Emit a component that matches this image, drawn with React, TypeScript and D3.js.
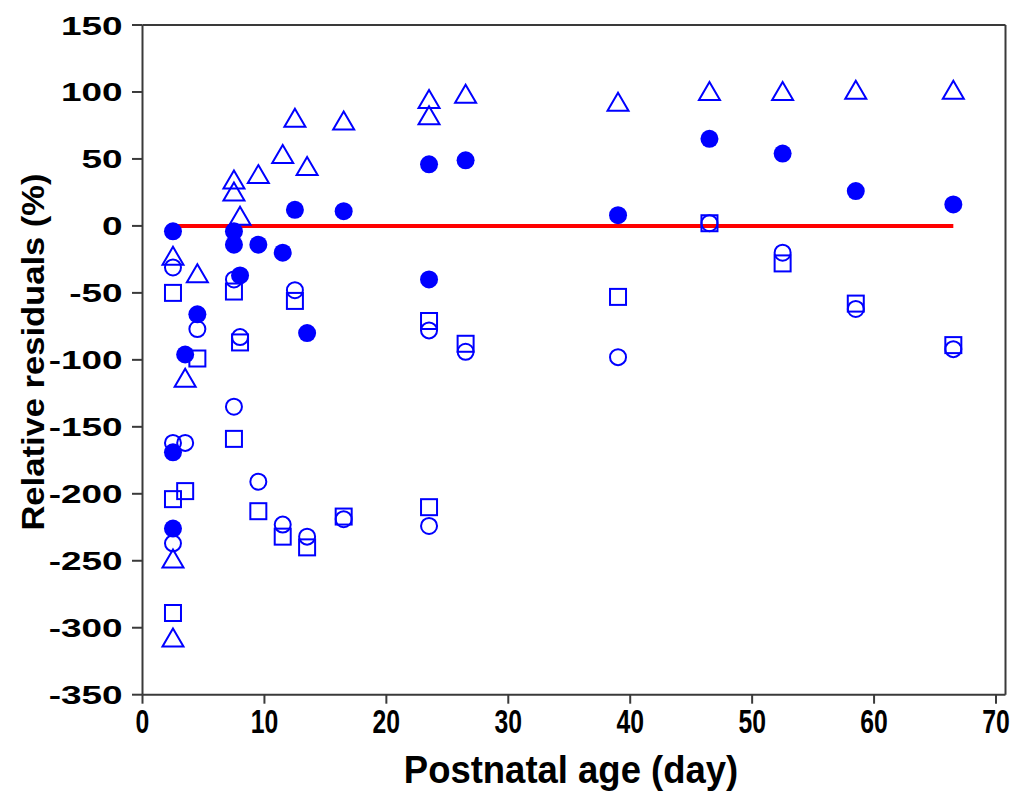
import React from "react";
import * as d3 from "d3";

// Postnatal age (day) / relative residual (%) pairs, one array per marker style
const filledAge = [2.5, 2.5, 2.5, 3.5, 4.5, 7.5, 7.5, 8, 9.5, 11.5, 12.5, 13.5, 16.5, 23.5, 23.5, 26.5, 39, 46.5, 52.5, 58.5, 66.5];
const filledRes = [-4, -169, -226, -96, -66, -4, -14, -37, -14, -20, 12, -80, 11, 46, -40, 49, 8, 65, 54, 26, 16];

const circleAge = [2.5, 2.5, 2.5, 3.5, 4.5, 7.5, 7.5, 8, 9.5, 11.5, 12.5, 13.5, 16.5, 23.5, 23.5, 26.5, 39, 46.5, 52.5, 58.5, 66.5];
const circleRes = [-31, -162, -237, -162, -77, -40, -135, -83, -191, -223, -48, -232, -219, -78, -224, -94, -98, 2, -20, -62, -92];

const squareAge = [2.5, 2.5, 2.5, 3.5, 4.5, 7.5, 7.5, 8, 9.5, 11.5, 12.5, 13.5, 16.5, 23.5, 23.5, 26.5, 39, 46.5, 52.5, 58.5, 66.5];
const squareRes = [-50, -204, -289, -198, -99, -49, -159, -87, -213, -232, -56, -240, -217, -71, -210, -88, -53, 2, -28, -58, -89];

const triAge = [2.5, 2.5, 2.5, 3.5, 4.5, 7.5, 7.5, 8, 9.5, 11.5, 12.5, 13.5, 16.5, 23.5, 23.5, 26.5, 39, 46.5, 52.5, 58.5, 66.5];
const triRes = [-23, -249, -308, -114, -36, 34, 25, 7, 38, 53, 80, 44, 78, 94, 82, 98, 92, 100, 100, 101, 101];

const refLineAge = [2.5, 66.5];
const refLineRes = [0, 0];

const xTicks = [0, 10, 20, 30, 40, 50, 60, 70];
const yTicks = [150, 100, 50, 0, -50, -100, -150, -200, -250, -300, -350];

const xTitle = "Postnatal age (day)";
const yTitle = "Relative residuals (%)";

export default function App() {
  const left = 142.5, right = 1005.5, top = 25, bottom = 694.7;
  const x = d3.scaleLinear().domain([0, 70]).range([left, 996]);
  const y = d3.scaleLinear().domain([-350, 150]).range([bottom, top]);
  const blue = "#0000ff";
  const axisColor = "#3a3a3a";
  const font = "'Liberation Sans', Arial, sans-serif";

  const line = d3.line<number>().x((d) => x(d)).y((_, i) => y(refLineRes[i]));
  const triPath = (cx: number, cy: number) => {
    const w = 10.5, h = 18;
    return `M${cx},${cy - h * 0.55}L${cx + w},${cy + h * 0.45}L${cx - w},${cy + h * 0.45}Z`;
  };

  return (
    <svg width={1016} height={794} style={{ position: "absolute", left: 0, top: 0, background: "#fff" }}>
      <rect width={1016} height={794} fill="#fff" />
      {/* frame */}
      <line x1={left} x2={right} y1={top} y2={top} stroke={axisColor} strokeWidth={2} />
      <line x1={right} x2={right} y1={top} y2={bottom} stroke={axisColor} strokeWidth={2} />
      <line x1={left} x2={left} y1={top} y2={bottom} stroke={axisColor} strokeWidth={2} />
      <line x1={left} x2={right} y1={bottom} y2={bottom} stroke={axisColor} strokeWidth={2} />
      {yTicks.map((t) => (
        <g key={"y" + t}>
          <line x1={left - 10.5} x2={left} y1={y(t)} y2={y(t)} stroke={axisColor} strokeWidth={2} />
          <text
            transform={`translate(${left - 20},${y(t) + 9.5}) scale(1.42,1)`}
            textAnchor="end"
            fontFamily={font}
            fontWeight="bold"
            fontSize={26}
            fill="#000"
          >
            {t}
          </text>
        </g>
      ))}
      {xTicks.map((t) => (
        <g key={"x" + t}>
          <line x1={x(t)} x2={x(t)} y1={bottom} y2={bottom + 9} stroke={axisColor} strokeWidth={2} />
          <text
            transform={`translate(${x(t)},${bottom + 38}) scale(0.75,1)`}
            textAnchor="middle"
            fontFamily={font}
            fontWeight="bold"
            fontSize={33}
            fill="#000"
          >
            {t}
          </text>
        </g>
      ))}
      <text
        transform={`translate(${571},${783}) scale(0.96,1)`}
        textAnchor="middle"
        fontFamily={font}
        fontWeight="bold"
        fontSize={38}
        fill="#000"
      >
        {xTitle}
      </text>
      <text
        transform={`translate(44,${352}) rotate(-90) scale(1.08,1)`}
        textAnchor="middle"
        fontFamily={font}
        fontWeight="bold"
        fontSize={32}
        fill="#000"
      >
        {yTitle}
      </text>

      {/* reference line */}
      <path d={line(refLineAge) || ""} stroke="#ff0000" strokeWidth={4} fill="none" />

      {/* squares */}
      {squareAge.map((a, i) => (
        <rect key={"s" + i} x={x(a) - 8} y={y(squareRes[i]) - 8} width={16} height={16} fill="none" stroke={blue} strokeWidth={2} />
      ))}
      {/* open circles */}
      {circleAge.map((a, i) => (
        <circle key={"c" + i} cx={x(a)} cy={y(circleRes[i])} r={8} fill="none" stroke={blue} strokeWidth={2} />
      ))}
      {/* triangles */}
      {triAge.map((a, i) => (
        <path key={"t" + i} d={triPath(x(a), y(triRes[i]))} fill="none" stroke={blue} strokeWidth={2} />
      ))}
      {/* filled circles */}
      {filledAge.map((a, i) => (
        <circle key={"f" + i} cx={x(a)} cy={y(filledRes[i])} r={9} fill={blue} />
      ))}
    </svg>
  );
}
